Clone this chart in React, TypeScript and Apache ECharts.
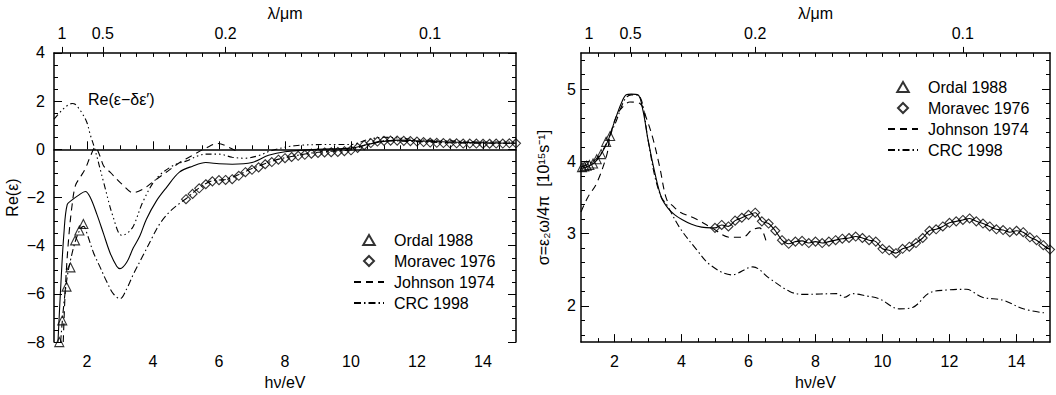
import React, { useEffect, useRef } from "react";
import * as echarts from "echarts";

const FONT = "Liberation Sans, Arial, Helvetica, sans-serif";
const HC_EV_UM = 1.23984;

// tick labels
const LAMBDA_TICKS = [1, 0.5, 0.2, 0.1];
const LAMBDA_LABELS = ["1", "0.5", "0.2", "0.1"];
const X_LABELS = [2, 4, 6, 8, 10, 12, 14];
const X_MINOR = [1.5, 2.5, 3, 3.5, 4.5, 5, 5.5, 6.5, 7, 7.5, 8.5, 9, 9.5, 10.5, 11, 11.5, 12.5, 13, 13.5, 14.5];
const X_TOP_MINOR = [1.5, 2, 2.5, 3, 3.5, 4, 4.5, 5, 5.5, 6, 6.5, 7, 7.5, 8, 8.5, 9, 9.5, 10, 10.5, 11, 11.5, 12, 12.5, 13, 13.5, 14, 14.5];
const Y2_LABELS = [2, 3, 4, 5];
const Y2_MINOR = [1.6, 1.8, 2.2, 2.4, 2.6, 2.8, 3.2, 3.4, 3.6, 3.8, 4.2, 4.4, 4.6, 4.8, 5.2, 5.4];

// ---- left panel: Re(eps) ----
const leftModel = [
  [1.12, -8], [1.2, -5.8], [1.3, -3.5], [1.4, -2.3], [1.55, -2.1], [1.75, -1.9], [1.95, -1.75],
  [2.1, -2.0], [2.3, -2.7], [2.5, -3.5], [2.7, -4.3], [2.9, -4.85], [3.0, -4.95], [3.2, -4.7],
  [3.4, -4.1], [3.6, -3.6], [3.8, -2.9], [4.1, -2.15], [4.4, -1.6], [4.8, -0.95], [5.2, -0.7],
  [5.6, -0.55], [6.0, -0.6], [6.4, -0.62], [7.0, -0.55], [7.5, -0.25], [8.0, -0.1], [9.0, 0.0],
  [10.0, 0.05], [10.5, 0.2], [11.0, 0.33], [11.5, 0.38], [12, 0.35], [13, 0.3], [14, 0.27], [15, 0.25],
];
const leftCorrected = [
  [1.0, 1.25], [1.24, 1.62], [1.42, 1.83], [1.55, 1.9], [1.64, 1.87], [1.85, 1.5], [2.0, 1.1],
  [2.1, 0.6], [2.24, 0.0], [2.5, -1.35], [2.8, -2.84], [3.05, -3.57], [3.2, -3.5], [3.4, -3.2],
  [3.7, -2.16], [4.1, -1.22], [4.6, -0.68], [5.0, -0.49], [5.6, -0.2], [6.0, -0.2], [6.4, -0.33],
  [6.8, -0.37], [7.2, -0.26], [7.6, -0.05], [8.3, 0.15], [9.5, 0.2], [10.0, 0.2], [10.5, 0.4],
  [11.0, 0.5], [12, 0.4], [13, 0.35], [14, 0.3], [15, 0.3],
];
const leftJohnson = [
  [1.28, -8], [1.35, -5.6], [1.45, -3.6], [1.55, -2.3], [1.65, -1.5], [1.8, -1.15], [1.95, -0.8],
  [2.1, -0.3], [2.25, 0.08], [2.4, -0.3], [2.5, -0.68], [2.7, -0.95], [3.1, -1.5], [3.4, -1.8],
  [3.7, -1.65], [4.0, -1.35], [4.4, -0.95], [4.8, -0.56], [5.2, -0.25], [5.6, 0.05], [5.97, 0.24],
  [6.3, 0.08], [6.6, -0.13],
];
const leftCRC = [
  [1.2, -8], [1.3, -6.4], [1.4, -5.3], [1.5, -4.6], [1.65, -3.8], [1.8, -3.3], [1.9, -3.2],
  [2.0, -3.5], [2.2, -4.3], [2.4, -4.9], [2.6, -5.5], [2.8, -6.0], [3.0, -6.2], [3.2, -5.8],
  [3.4, -5.2], [3.7, -4.4], [4.0, -3.6], [4.2, -3.1], [4.5, -2.6], [4.8, -2.25], [5.0, -2.05],
  [5.4, -1.6], [5.8, -1.3], [6.2, -1.25], [6.6, -1.05], [7.0, -0.8], [7.6, -0.5], [8.0, -0.35],
  [9.0, -0.12], [10.0, -0.02], [10.5, 0.2], [11.0, 0.35], [12, 0.32], [13, 0.27], [14, 0.25], [15, 0.25],
];
const leftOrdal = [
  [1.16, -8], [1.25, -7.1], [1.38, -5.7], [1.5, -4.9], [1.64, -3.78], [1.77, -3.37], [1.89, -3.1],
];
const moravecEnergy = [
  5.0, 5.2, 5.4, 5.6, 5.8, 6.0, 6.2, 6.4, 6.6, 6.8, 7.0, 7.2, 7.4, 7.6, 7.8, 8.0, 8.2, 8.4, 8.6, 8.8,
  9.0, 9.2, 9.4, 9.6, 9.8, 10.0, 10.2, 10.4, 10.6, 10.8, 11.0, 11.2, 11.4, 11.6, 11.8, 12.0, 12.2,
  12.4, 12.6, 12.8, 13.0, 13.2, 13.4, 13.6, 13.8, 14.0, 14.2, 14.4, 14.6, 14.8, 15.0,
];
const leftMoravecRe = [
  -2.07, -1.85, -1.62, -1.45, -1.33, -1.28, -1.27, -1.24, -1.1, -0.95, -0.85, -0.75, -0.62, -0.53,
  -0.43, -0.37, -0.32, -0.27, -0.23, -0.18, -0.15, -0.13, -0.12, -0.11, -0.08, -0.04, 0.06, 0.17,
  0.26, 0.32, 0.35, 0.36, 0.36, 0.35, 0.34, 0.32, 0.3, 0.28, 0.27, 0.26, 0.25, 0.25, 0.24, 0.24,
  0.24, 0.23, 0.23, 0.24, 0.24, 0.25, 0.25,
];

// ---- right panel: sigma ----
const rightMoravecSigma = [
  3.08, 3.12, 3.1, 3.18, 3.22, 3.26, 3.29, 3.17, 3.14, 3.04, 2.91, 2.86, 2.89, 2.9, 2.87, 2.89,
  2.87, 2.89, 2.91, 2.93, 2.94, 2.96, 2.94, 2.91, 2.89, 2.79, 2.77, 2.73, 2.79, 2.82, 2.87, 2.94,
  3.04, 3.06, 3.1, 3.15, 3.17, 3.19, 3.21, 3.17, 3.14, 3.1, 3.06, 3.05, 3.02, 3.04, 3.02, 2.95,
  2.91, 2.84, 2.78,
];
const rightModelHead = [
  [1.0, 3.9], [1.2, 3.93], [1.4, 3.98], [1.6, 4.1], [1.8, 4.28], [2.0, 4.55], [2.2, 4.8],
  [2.35, 4.92], [2.5, 4.93], [2.7, 4.92], [2.85, 4.7], [3.0, 4.3], [3.2, 3.85], [3.4, 3.5],
  [3.6, 3.35], [3.8, 3.26], [4.0, 3.2], [4.3, 3.13], [4.6, 3.09], [4.9, 3.08],
];
const rightJohnson = [
  [1.0, 3.3], [1.2, 3.5], [1.47, 3.7], [1.77, 4.09], [1.86, 4.33], [2.07, 4.64], [2.3, 4.78],
  [2.46, 4.82], [2.76, 4.8], [2.95, 4.6], [3.15, 4.31], [3.35, 3.92], [3.56, 3.47], [3.75, 3.38],
  [3.95, 3.3], [4.45, 3.2], [4.94, 3.07], [5.44, 2.95], [5.83, 2.95], [6.1, 3.05], [6.33, 3.08], [6.54, 2.87],
];
const rightCRC = [
  [1.0, 3.92], [1.5, 4.05], [2.0, 4.5], [2.3, 4.85], [2.5, 4.92], [2.75, 4.9], [3.0, 4.3],
  [3.2, 3.8], [3.4, 3.5], [3.56, 3.4], [3.95, 3.08], [4.45, 2.78], [4.85, 2.57], [5.5, 2.43],
  [6.13, 2.54], [6.63, 2.38], [7.23, 2.2], [7.62, 2.16], [8.63, 2.17], [8.87, 2.12], [9.1, 2.17],
  [9.5, 2.14], [9.9, 2.1], [10.5, 1.96], [10.9, 1.98], [11.4, 2.18], [11.9, 2.22], [12.5, 2.23],
  [12.98, 2.12], [13.6, 2.08], [14.2, 1.96], [14.9, 1.9],
];
const rightOrdal = [
  [1.03, 3.92], [1.1, 3.93], [1.17, 3.94], [1.25, 3.95], [1.36, 3.97], [1.47, 4.03], [1.6, 4.1],
  [1.75, 4.27], [1.87, 4.35],
];

const TRIANGLE_ICON = "path://M5,0L10,8.66L0,8.66Z";
const DIAMOND_ICON = "path://M5,0L10,5L5,10L0,5Z";
const LEGEND_ITEMS = [
  { name: "Ordal 1988", icon: TRIANGLE_ICON },
  { name: "Moravec 1976", icon: DIAMOND_ICON },
  { name: "Johnson 1974" },
  { name: "CRC 1998" },
];

const minus = (v: number) => String(v).replace("-", "\u2212");
const lambdaEv = LAMBDA_TICKS.map((l) => HC_EV_UM / l);
const lambdaFmt = (v: number) => {
  let best = 0;
  lambdaEv.forEach((e, i) => {
    if (Math.abs(e - v) < Math.abs(lambdaEv[best] - v)) best = i;
  });
  return LAMBDA_LABELS[best];
};

const txt = { color: "#000", fontSize: 16, fontFamily: FONT };
const black = { color: "#000" };

function xAxesFor(grid: number, topGap: number) {
  return [
    {
      gridIndex: grid, type: "value", min: 1, max: 15, position: "bottom",
      axisLine: { show: true, lineStyle: { color: "#000", width: 1.5 } },
      axisTick: { show: true, inside: true, length: 8, customValues: X_LABELS, lineStyle: black },
      axisLabel: { customValues: X_LABELS, margin: 11, ...txt },
      splitLine: { show: false },
      name: "h\u03bd/eV", nameLocation: "middle", nameGap: 27, nameTextStyle: txt,
    },
    {
      gridIndex: grid, type: "value", min: 1, max: 15, position: "bottom",
      axisLine: { show: false },
      axisTick: { show: true, inside: true, length: 4, customValues: X_MINOR, lineStyle: black },
      axisLabel: { show: false },
      splitLine: { show: false },
    },
    {
      gridIndex: grid, type: "value", min: 1, max: 15, position: "top",
      axisLine: { show: true, lineStyle: { color: "#000", width: 1.5 } },
      axisTick: { show: true, inside: false, length: 6, customValues: lambdaEv, lineStyle: black },
      axisLabel: { customValues: lambdaEv, margin: 11, formatter: lambdaFmt, ...txt },
      splitLine: { show: false },
      name: "\u03bb/\u03bcm", nameLocation: "middle", nameGap: topGap, nameTextStyle: txt,
    },
    {
      gridIndex: grid, type: "value", min: 1, max: 15, position: "top",
      axisLine: { show: false },
      axisTick: { show: true, inside: true, length: 4, customValues: X_TOP_MINOR, lineStyle: black },
      axisLabel: { show: false },
      splitLine: { show: false },
    },
  ];
}

const lineS = (name: string, data: number[][], xi: number, yi: number, type: any) => ({
  name, type: "line", data, xAxisIndex: xi, yAxisIndex: yi, symbol: "circle", showSymbol: false,
  smooth: 0.35,
  lineStyle: { color: "#000", width: 1.1, type },
  itemStyle: { color: "rgba(0,0,0,0)", borderWidth: 0 }, z: 3,
});
const scat = (name: string, data: number[][], xi: number, yi: number, symbol: string) => ({
  name, type: "scatter", data, xAxisIndex: xi, yAxisIndex: yi, symbol, symbolSize: 9,
  itemStyle: { color: "rgba(0,0,0,0)", borderColor: "#000", borderWidth: 1.1 }, z: 4,
});

export default function App() {
  const ref = useRef<HTMLDivElement>(null);
  useEffect(() => {
    if (!ref.current) return;
    const chart = echarts.init(ref.current, undefined, { renderer: "svg" });
    const leftMoravec = moravecEnergy.map((e, i) => [e, leftMoravecRe[i]]);
    const rightMoravec = moravecEnergy.map((e, i) => [e, rightMoravecSigma[i]]);
    const rightModel = rightModelHead.concat(rightMoravec);
    const dashed = [7, 5];
    const dashDot = [7, 3, 1.5, 3];
    const dashDot3 = [6, 3, 1.5, 3, 1.5, 3, 1.5, 3];

    const legendBase = {
      orient: "vertical", itemWidth: 30, itemHeight: 10, itemGap: 5, padding: 0,
      selectedMode: false, data: LEGEND_ITEMS, textStyle: { ...txt, padding: [0, 0, 0, 5] },
    };

    chart.setOption({
      animation: false,
      backgroundColor: "#fff",
      grid: [
        { left: 54, top: 51, width: 462, height: 296 },
        { left: 581, top: 43, width: 469, height: 304 },
      ],
      legend: [
        { ...legendBase, left: 353, top: 232 },
        { ...legendBase, left: 887, top: 79 },
      ],
      xAxis: [...xAxesFor(0, 25), ...xAxesFor(1, 17)],
      yAxis: [
        {
          gridIndex: 0, type: "value", min: -8, max: 4, interval: 2, position: "left",
          axisLine: { show: true, lineStyle: { color: "#000", width: 1.5 } },
          axisTick: { inside: true, length: 8, lineStyle: black },
          minorTick: { show: true, splitNumber: 4, length: 4, lineStyle: black },
          axisLabel: { margin: 9, formatter: minus, ...txt },
          splitLine: { show: false },
          name: "Re(\u03b5)", nameLocation: "middle", nameGap: 34, nameTextStyle: txt,
        },
        {
          gridIndex: 0, type: "value", min: -8, max: 4, interval: 2, position: "right",
          axisLine: { show: true, lineStyle: { color: "#000", width: 1.5 } },
          axisTick: { inside: true, length: 8, lineStyle: black },
          minorTick: { show: true, splitNumber: 4, length: 4, lineStyle: black },
          axisLabel: { show: false },
          splitLine: { show: false },
        },
        {
          gridIndex: 1, type: "value", min: 1.5, max: 5.5, position: "left",
          axisLine: { show: true, lineStyle: { color: "#000", width: 1.5 } },
          axisTick: { inside: true, length: 8, customValues: Y2_LABELS, lineStyle: black },
          axisLabel: { customValues: Y2_LABELS, margin: 5, ...txt },
          splitLine: { show: false },
          name: "\u03c3=\u03b5\u2082\u03c9/4\u03c0  [10\u00b9\u2075s\u207b\u00b9]",
          nameLocation: "middle", nameGap: 30, nameTextStyle: txt,
        },
        {
          gridIndex: 1, type: "value", min: 1.5, max: 5.5, position: "left",
          axisLine: { show: false },
          axisTick: { inside: true, length: 4, customValues: Y2_MINOR, lineStyle: black },
          axisLabel: { show: false },
          splitLine: { show: false },
        },
        {
          gridIndex: 1, type: "value", min: 1.5, max: 5.5, position: "right",
          axisLine: { show: true, lineStyle: { color: "#000", width: 1.5 } },
          axisTick: { inside: true, length: 8, customValues: Y2_LABELS, lineStyle: black },
          axisLabel: { show: false },
          splitLine: { show: false },
        },
        {
          gridIndex: 1, type: "value", min: 1.5, max: 5.5, position: "right",
          axisLine: { show: false },
          axisTick: { inside: true, length: 4, customValues: Y2_MINOR, lineStyle: black },
          axisLabel: { show: false },
          splitLine: { show: false },
        },
      ],
      graphic: [
        {
          type: "text", left: 88, top: 91,
          style: { text: "Re(\u03b5\u2212\u03b4\u03b5\u2032)", fill: "#000", font: `16px ${FONT}` },
        },
      ],
      series: [
        lineS("model-left", leftModel, 0, 0, "solid"),
        lineS("corrected-left", leftCorrected, 0, 0, dashDot3),
        lineS("Johnson 1974", leftJohnson, 0, 0, dashed),
        lineS("CRC 1998", leftCRC, 0, 0, dashDot),
        scat("Ordal 1988", leftOrdal, 0, 0, "triangle"),
        scat("Moravec 1976", leftMoravec, 0, 0, "diamond"),
        lineS("model-right", rightModel, 4, 2, "solid"),
        lineS("Johnson 1974", rightJohnson, 4, 2, dashed),
        lineS("CRC 1998", rightCRC, 4, 2, dashDot),
        scat("Ordal 1988", rightOrdal, 4, 2, "triangle"),
        scat("Moravec 1976", rightMoravec, 4, 2, "diamond"),
      ],
    });
    return () => chart.dispose();
  }, []);
  return (
    <div
      ref={ref}
      style={{ position: "absolute", left: 0, top: 0, width: 1056, height: 395, background: "#fff" }}
    />
  );
}
